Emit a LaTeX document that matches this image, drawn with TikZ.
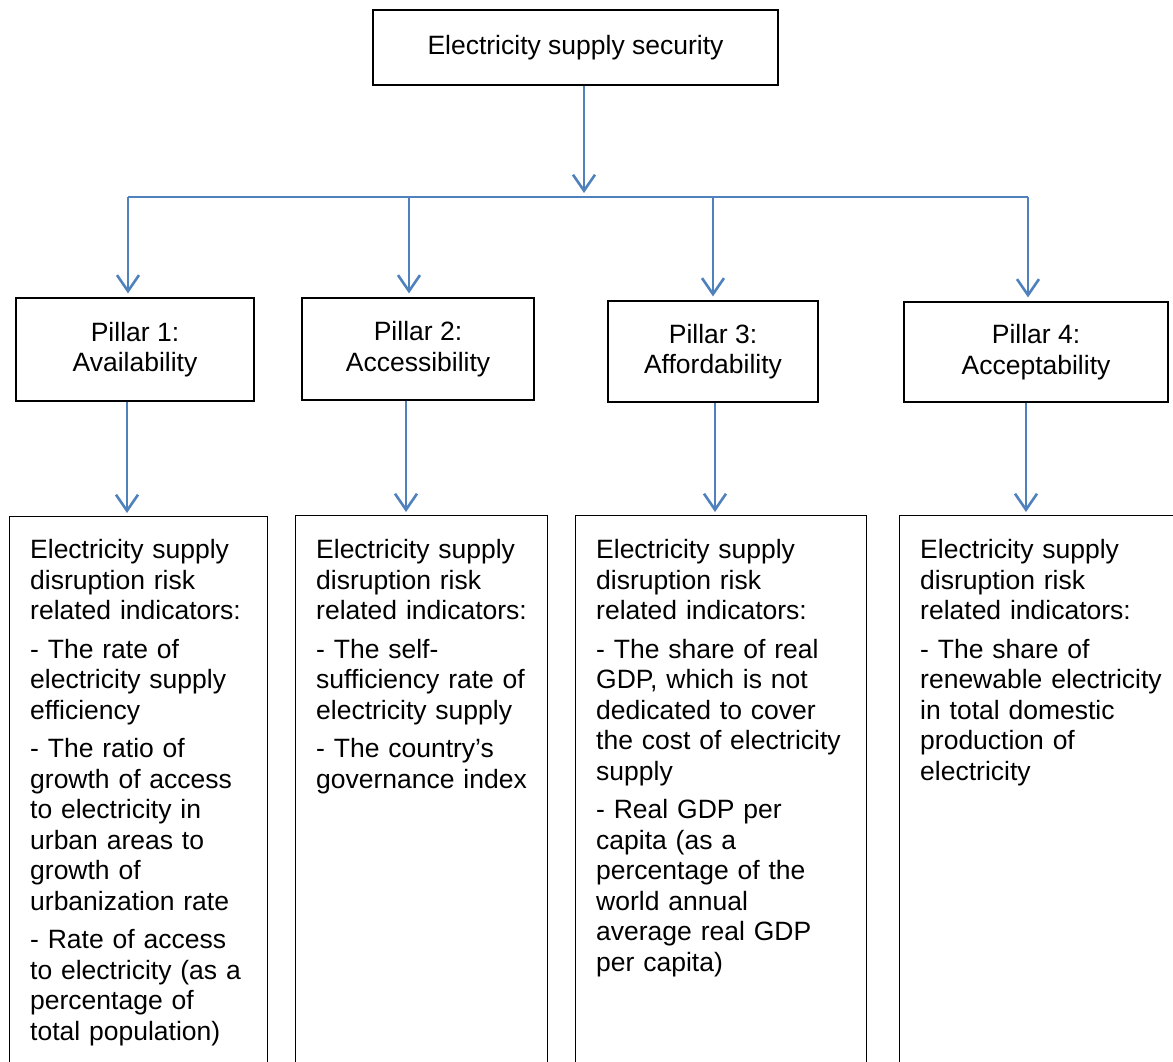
\documentclass[tikz,border=0pt]{standalone}
\usepackage{fontspec}
\setmainfont{Liberation Sans}[Ligatures=NoCommon]
\usetikzlibrary{arrows.meta}
\usetikzlibrary{positioning}
\definecolor{linkblue}{HTML}{4F81BD}

\begin{document}
\begin{tikzpicture}[x=1pt, y=-1pt,
    box/.style={draw=black, line width=1.2pt, inner sep=0pt, align=center,
        font=\fontsize{26.5}{30.5}\selectfont},
    infobox/.style={draw=black, line width=1.2pt, anchor=north west, minimum height=600pt},
    infotext/.style={anchor=base west, text width=262pt, align=left, inner sep=0pt,
        font=\fontsize{26.5}{30.5}\selectfont},
    link/.style={draw=linkblue, line width=2.6pt},
    linkarrow/.style={link, -{Straight Barb[length=16pt, width=22pt]}}]
    \path[use as bounding box, clip] (0,0) rectangle (1173,1062);

    % Oberster Knoten
    \node[box, minimum width=405pt, minimum height=75pt] (top) at (575.5,47.5) {Electricity supply security};

    % Die vier Saeulen
    \node[box, minimum width=238pt, minimum height=103pt] (p1) at (135,349.5) {Pillar 1:\\Availability};
    \node[box, minimum width=232pt, minimum height=102pt] (p2) at (418,349) {Pillar 2:\\Accessibility};
    \node[box, minimum width=210pt, minimum height=101pt] (p3) at (713,351.5) {Pillar 3:\\Affordability};
    \node[box, minimum width=264pt, minimum height=100pt] (p4) at (1036,352) {Pillar 4:\\Acceptability};

    % Indikatoren
    \node[infobox, minimum width=258pt] (b1) at (9,516) {};
    \node[infobox, minimum width=252pt] (b2) at (295,515) {};
    \node[infobox, minimum width=291pt] (b3) at (575,515) {};
    \node[infobox, minimum width=291pt] (b4) at (899,515) {};

    \node[infotext] (t1) at ([shift={(21,42.5)}]b1.north west) {Electricity supply\\disruption risk\\related indicators:\\[8pt]
        - The rate of\\electricity supply\\efficiency\\[8pt]
        - The ratio of\\growth of access\\to electricity in\\urban areas to\\growth of\\urbanization rate\\[8pt]
        - Rate of access\\to electricity (as a\\percentage of\\total population)};
    \node[infotext] (t2) at ([shift={(21,43.5)}]b2.north west) {Electricity supply\\disruption risk\\related indicators:\\[8pt]
        - The self-\\sufficiency rate of\\electricity supply\\[8pt]
        - The country’s\\governance index};
    \node[infotext] (t3) at ([shift={(21,43.5)}]b3.north west) {Electricity supply\\disruption risk\\related indicators:\\[8pt]
        - The share of real\\GDP, which is not\\dedicated to cover\\the cost of electricity\\supply\\[8pt]
        - Real GDP per\\capita (as a\\percentage of the\\world annual\\average real GDP\\per capita)};
    \node[infotext] (t4) at ([shift={(21,43.5)}]b4.north west) {Electricity supply\\disruption risk\\related indicators:\\[8pt]
        - The share of\\renewable electricity\\in total domestic\\production of\\electricity};

    % Verbindungen
    \coordinate (bus) at (584,197);
    \coordinate (busl) at (128,197);
    \coordinate (busr) at (1028,197);
    \draw[linkarrow, shorten >=4pt] (584,0 |- top.south) -- (bus);
    \draw[link] (busl) -- (busr);
    \foreach \x [count=\i] in {128,409,713,1028}
        \draw[linkarrow, shorten >=4pt] (\x,197) -- (\x,0 |- p\i.north);
    \foreach \x [count=\i] in {127,406,715,1026}
        \draw[linkarrow, shorten >=3pt] (\x,0 |- p\i.south) -- (\x,0 |- b\i.north);
\end{tikzpicture}
\end{document}
